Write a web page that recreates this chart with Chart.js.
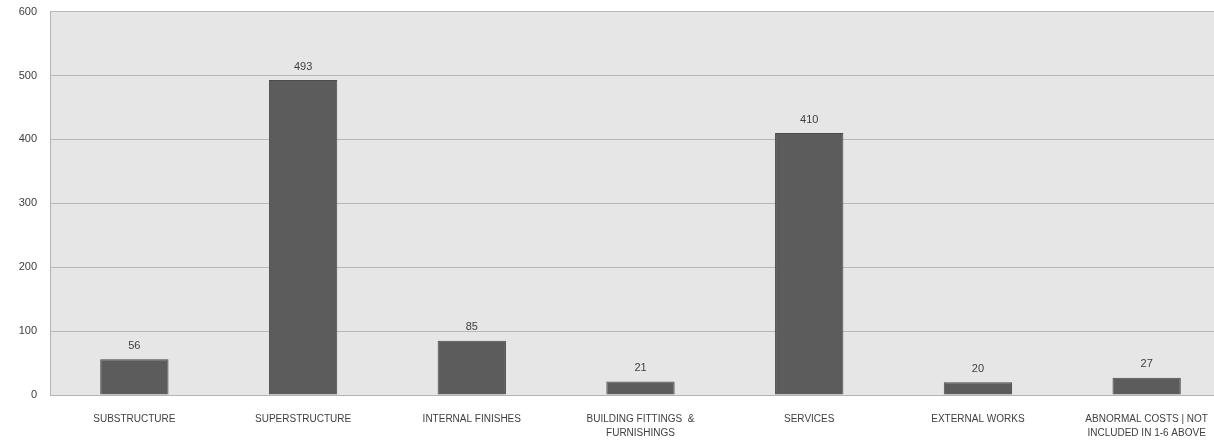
<!DOCTYPE html>
<html>
<head>
<meta charset="utf-8">
<script src="https://cdn.jsdelivr.net/npm/chart.js@4/dist/chart.umd.min.js"></script>
<style>
  html, body { margin: 0; padding: 0; background: #fff; overflow: hidden; }
  #wrap { position: absolute; left: 0; top: -8px; width: 1240px; height: 450px; }
</style>
</head>
<body>
<div id="wrap"><canvas id="costChart" width="1240" height="450"></canvas></div>
<script>
const categories = [
  'SUBSTRUCTURE',
  'SUPERSTRUCTURE',
  'INTERNAL FINISHES',
  ['BUILDING FITTINGS  &', 'FURNISHINGS'],
  'SERVICES',
  'EXTERNAL WORKS',
  ['ABNORMAL COSTS | NOT', 'INCLUDED IN 1-6 ABOVE']
];
const costs = [56, 493, 85, 21, 410, 20, 27];
const yMax = 600;
const yStep = 100;

const ctx = document.getElementById('costChart').getContext('2d');

// grey plot background like the original spreadsheet chart
const plotBackground = {
  id: 'plotBackground',
  beforeDraw(chart) {
    const { ctx, chartArea } = chart;
    ctx.save();
    ctx.fillStyle = '#e6e6e6';
    ctx.fillRect(chartArea.left, chartArea.top, chartArea.right - chartArea.left, chartArea.bottom - chartArea.top);
    ctx.restore();
  }
};

// value printed above each bar
const valueLabels = {
  id: 'valueLabels',
  afterDatasetsDraw(chart) {
    const { ctx } = chart;
    const meta = chart.getDatasetMeta(0);
    ctx.save();
    ctx.font = '11px "Liberation Sans", Arial, sans-serif';
    ctx.fillStyle = '#404040';
    ctx.textAlign = 'center';
    ctx.textBaseline = 'bottom';
    meta.data.forEach((bar, i) => {
      ctx.fillText(String(costs[i]), bar.x, bar.y - 8);
    });
    ctx.restore();
  }
};

new Chart(ctx, {
  type: 'bar',
  data: {
    labels: categories,
    datasets: [
      {
        label: 'Cost',
        data: costs,
        backgroundColor: '#5c5c5c',
        borderColor: '#4a4a4a',
        borderWidth: 1,
        barPercentage: 0.405,
        categoryPercentage: 1
      }
    ]
  },
  options: {
    responsive: false,
    animation: false,
    layout: { padding: { top: 3, right: 9, left: 0, bottom: 0 } },
    plugins: {
      legend: { display: false },
      tooltip: { enabled: false }
    },
    scales: {
      x: {
        afterFit: scale => { scale.height = 47; },
        grid: { display: false, drawTicks: false },
        border: { color: '#b4b4b4', width: 1 },
        ticks: {
          padding: 17,
          maxRotation: 0,
          autoSkip: false,
          color: '#404040',
          font: { family: '"Liberation Sans", Arial, sans-serif', size: 10, lineHeight: 1.4 }
        }
      },
      y: {
        min: 0,
        max: yMax,
        afterFit: scale => { scale.width = 50; },
        grid: { color: '#b8b8b8', lineWidth: 1, drawTicks: false },
        border: { color: '#b4b4b4', width: 1 },
        ticks: {
          stepSize: yStep,
          padding: 13,
          color: '#404040',
          font: { family: '"Liberation Sans", Arial, sans-serif', size: 11 }
        }
      }
    }
  },
  plugins: [plotBackground, valueLabels]
});
</script>
</body>
</html>
